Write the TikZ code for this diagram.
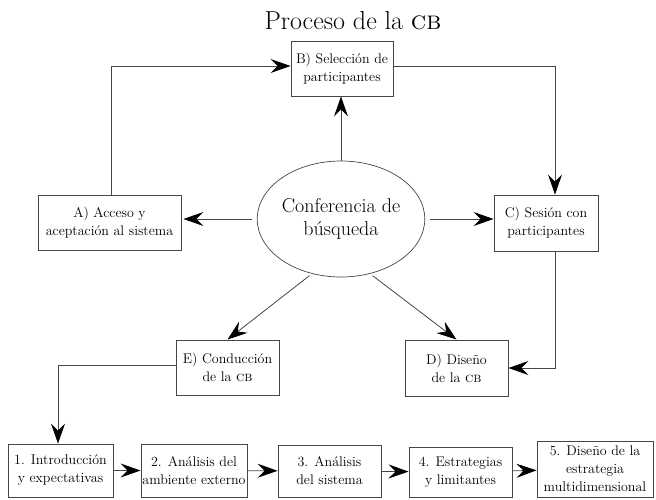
\documentclass[tikz,border=0pt]{standalone}
\usepackage{tikz}
\usetikzlibrary{positioning,shapes.geometric,arrows.meta}
\tikzstyle{plano} = [x = 1pt, y = -1pt]
\definecolor{lineColor}{RGB}{70,70,70}
\tikzstyle{boxStyle} = [draw=lineColor, line width=0.9pt, align=center, inner sep=0pt, font=\fontsize{14}{18}\selectfont]
\tikzstyle{confStyle} = [ellipse, draw=lineColor, line width=0.7pt, align=center, minimum width=164pt, minimum height=116pt, inner sep=0pt, font=\fontsize{20}{23}\selectfont]
\tikzstyle{arrowStyle} = [draw=lineColor, line width=0.8pt, -{Stealth[length=20pt, width=14pt, inset=7pt, color=black]}]
\tikzstyle{titleText} = [font=\fontsize{26}{30}\selectfont]
\newcommand{\cb}{\textsc{cb}}
\newcommand{\stepBox}[6]{\node [boxStyle, minimum width=#4pt, minimum height=#5pt] (#1) at (#2,#3) {#6};}

\begin{document}
\begin{tikzpicture}[plano]
  \useasboundingbox (0,0) rectangle (656,499);
  \node [titleText] (title) at (353,21) {Proceso de la \cb};

  \node [confStyle] (conf) at (341,219) {Conferencia de\\búsqueda};
  \stepBox{selB}{342}{68.5}{102}{55}{B) Selección de\\participantes}
  \stepBox{accA}{109.5}{222.5}{143}{55}{A) Acceso y\\aceptación al sistema}
  \stepBox{sesC}{546}{223}{104}{56}{C) Sesión con\\participantes}
  \stepBox{conE}{227.5}{367.5}{103}{55}{E) Conducción\\de la \cb}
  \stepBox{disD}{456.5}{368}{103}{56}{D) Diseño\\de la \cb}

  \stepBox{s1}{60.5}{470.5}{105}{53}{1. Introducción\\y expectativas}
  \stepBox{s2}{194}{470.5}{106}{53}{2. Análisis del\\ambiente externo}
  \stepBox{s3}{329.5}{471}{103}{52}{3. Análisis\\del sistema}
  \stepBox{s4}{460.5}{472}{103}{50}{4. Estrategias\\y limitantes}
  \stepBox{s5}{595}{469}{116}{56}{5. Diseño de la\\estrategia\\multidimensional}

  \draw [arrowStyle] (conf.north) -- (conf.north |- selB.south);
  \draw [arrowStyle, shorten <=5pt, shorten >=2pt] (conf.west) -- (conf.west -| accA.east);
  \draw [arrowStyle, shorten <=5pt] (conf.east) -- (conf.east -| sesC.west);
  \draw [arrowStyle, shorten <=3pt] (conf.242) -- (conE.north);
  \draw [arrowStyle, shorten <=3pt] (conf.298) -- (disD.north);

  \draw [arrowStyle] ([xshift=1.5pt]accA.north) |- ([yshift=2.5pt]selB.west);
  \draw [arrowStyle] ([yshift=2.5pt]selB.east) -| ([xshift=9pt]sesC.north);
  \draw [arrowStyle] ([xshift=9pt]sesC.south) |- (disD.east);
  \draw [arrowStyle] ([yshift=2.5pt]conE.west) -| ([xshift=-2.5pt]s1.north);

  \foreach \from/\to in {s1/s2, s2/s3, s3/s4, s4/s5} {
    \draw [arrowStyle] (\from) -- (\to);
  }
\end{tikzpicture}
\end{document}
